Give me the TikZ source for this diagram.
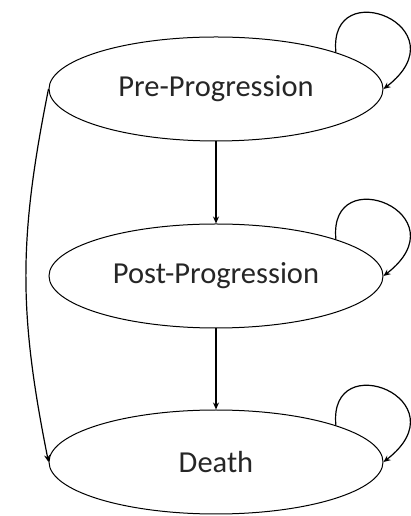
\documentclass[tikz,border=0pt]{standalone}
\usepackage{fontspec}
\setmainfont{Carlito}
\usetikzlibrary{shapes.geometric,arrows.meta}
\begin{document}
\begin{tikzpicture}[x=1pt,y=1pt,
  state/.style={ellipse,draw,line width=1pt,minimum width=334pt,minimum height=104pt,inner sep=0pt,
    font=\fontsize{30.5}{36}\selectfont,text=black!85},
  conn/.style={line width=1.2pt,-{Stealth[length=7pt,width=6pt]}}]
\useasboundingbox (0,0) rectangle (411,516);
\node[state] (pre) at (216,427) {Pre-Progression};
\node[state] (post) at (216,240) {Post-Progression};
\node[state] (death) at (216,54) {Death};
\draw[conn] (pre.south) -- (post.north);
\draw[conn] (post.south) -- (death.north);
\draw[conn] (pre.west) .. controls +(-30,-150) and +(-30,150) .. (death.west);
\draw[conn] (pre.17.5) .. controls +(-8,80) and +(80,62) .. (pre.east);
\draw[conn] (post.17.5) .. controls +(-8,80) and +(80,62) .. (post.east);
\draw[conn] (death.17.5) .. controls +(-8,80) and +(80,62) .. (death.east);
\end{tikzpicture}
\end{document}
